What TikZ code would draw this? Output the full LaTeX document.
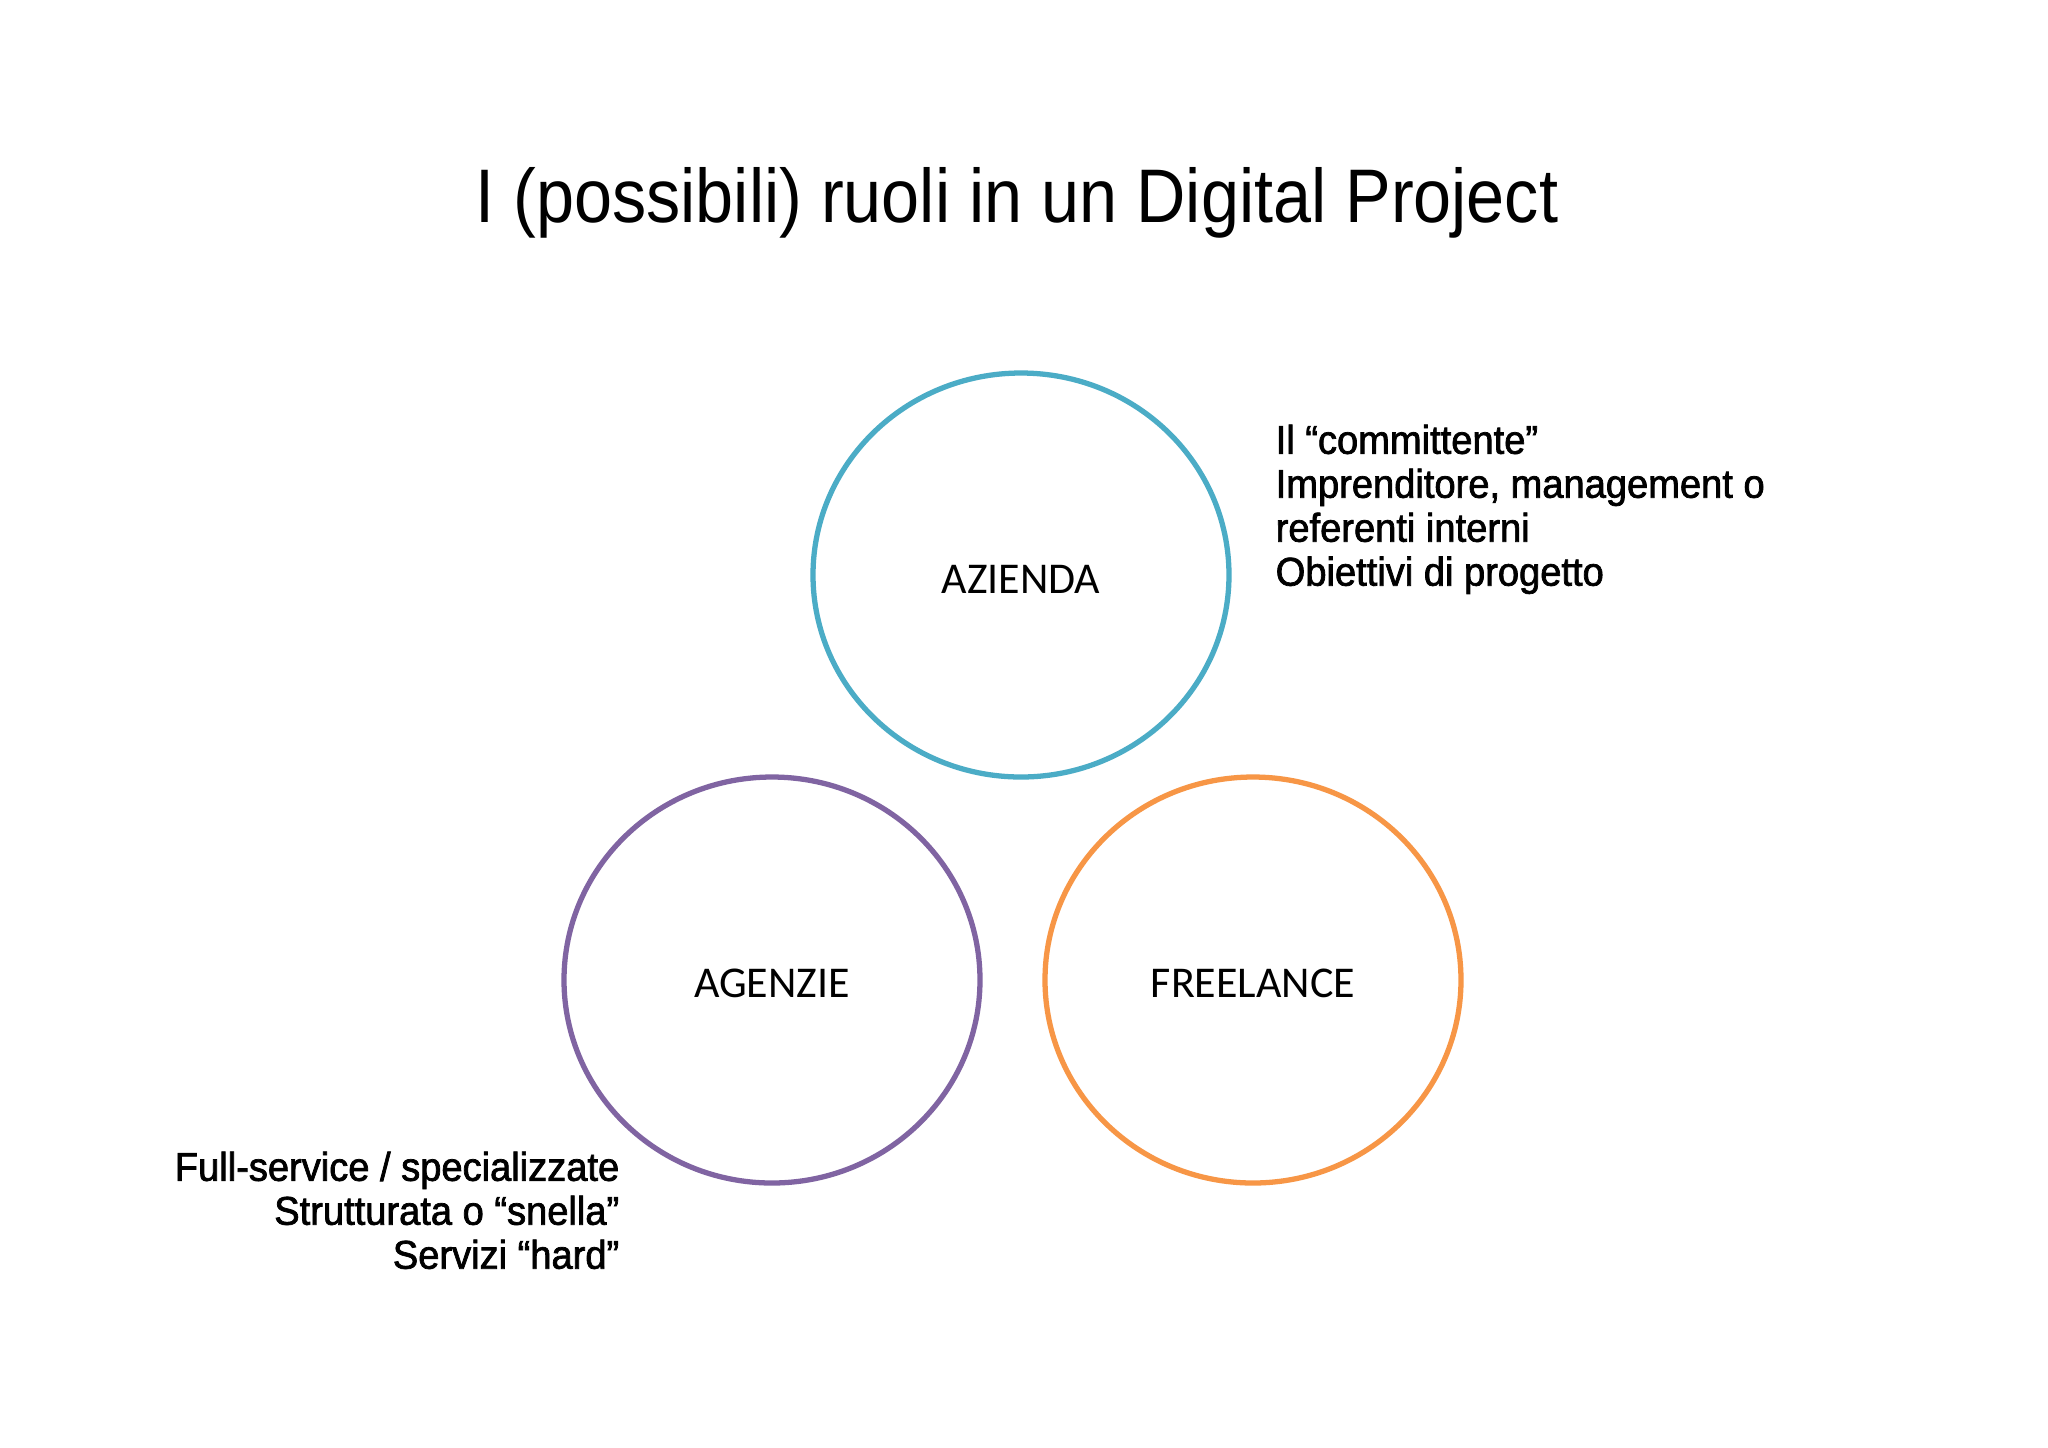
\documentclass[tikz,border=0pt]{standalone}
\usepackage{fontspec}
\setmainfont{Liberation Sans}
\newfontfamily\titlefont{Liberation Sans}[FakeStretch=0.9]
\newfontfamily\labelfont{Carlito}
\newfontfamily\sidefont{Liberation Sans}[FakeBold=1.8,FakeStretch=0.95]
\definecolor{cazienda}{HTML}{4BACC6}
\definecolor{cagenzie}{HTML}{8064A2}
\definecolor{cfreelance}{HTML}{F79646}
\begin{document}
\begin{tikzpicture}[x=0.01cm,y=-0.01cm,
  rolecircle/.style={line width=1.5pt},
  rolelabel/.style={font=\labelfont\fontsize{12.5}{15}\selectfont, text=black},
  sidetext/.style={font=\sidefont\fontsize{11.4}{12.5}\selectfont, inner sep=0pt, text=black}]
\useasboundingbox[fill=white] (0,0) rectangle (2048,1447);
\node[font=\titlefont\fontsize{21.6}{26}\selectfont, anchor=base, inner sep=0pt] (title) at (1017,222) {I (possibili) ruoli in un Digital Project};
\draw[cazienda, rolecircle] (1021,575) ellipse [x radius=208, y radius=202];
\draw[cagenzie, rolecircle] (772,980) ellipse [x radius=208, y radius=203];
\draw[cfreelance, rolecircle] (1253,980) ellipse [x radius=208, y radius=203];
\node[rolelabel] (azienda) at (1021,579) {AZIENDA};
\node[rolelabel] (agenzie) at (772,983) {AGENZIE};
\node[rolelabel] (freelance) at (1253,983) {FREELANCE};
\node[sidetext, anchor=north west, align=left] (aziendatext) at (1275,424) {Il “committente”\\Imprenditore, management o\\referenti interni\\Obiettivi di progetto};
\node[sidetext, anchor=north east, align=right] (agenzietext) at (620,1151) {Full-service / specializzate\\Strutturata o “snella”\\Servizi “hard”};
\end{tikzpicture}
\end{document}
